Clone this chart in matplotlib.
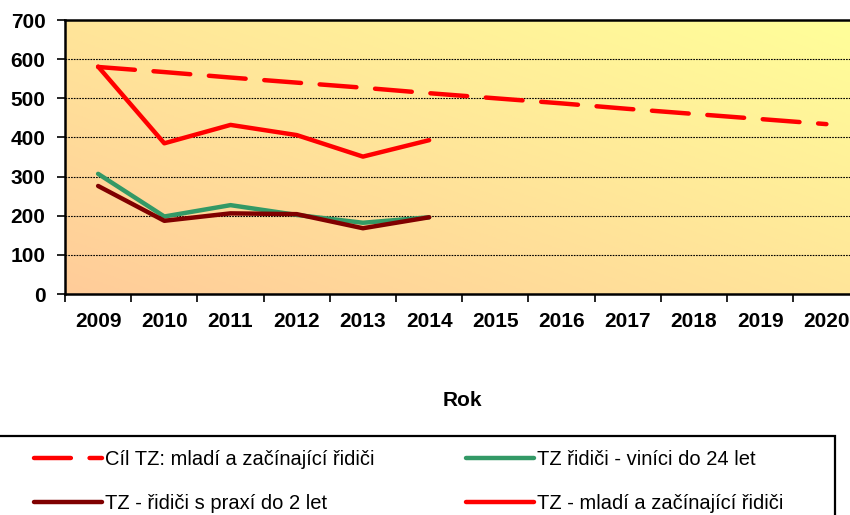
import numpy as np
import matplotlib
matplotlib.use('Agg')
import matplotlib.pyplot as plt
from matplotlib.colors import LinearSegmentedColormap
from matplotlib.patches import Rectangle

plt.rcParams['font.family'] = ['Liberation Sans', 'DejaVu Sans']

years = ['2009', '2010', '2011', '2012', '2013', '2014', '2015', '2016',
         '2017', '2018', '2019', '2020']
cil_tz = [580, 567, 553, 540, 527, 513, 500, 487, 473, 460, 447, 434]
vinici_24 = [307, 198, 227, 202, 182, 196]
praxe_2 = [276, 187, 206, 204, 168, 196]
mladi_zac = [581, 385, 432, 406, 351, 393]

fig = plt.figure(figsize=(8.5, 5.15), dpi=100)
ax = fig.add_axes([65 / 850, 1 - 294 / 515, 794.5 / 850, 274 / 515])

# gradient background (peach bottom-left -> pale yellow top-right)
cmap = LinearSegmentedColormap.from_list('bg', ['#FFCC99', '#FFFF99'])
gx, gy = np.meshgrid(np.linspace(0, 1, 200), np.linspace(0, 1, 200))
ax.imshow((gx + gy) / 2, cmap=cmap, extent=[0, 1, 0, 1], origin='lower',
          transform=ax.transAxes, aspect='auto', zorder=0)

x = np.arange(len(years))
ax.plot(x, cil_tz, color='#FF0000', lw=3.2, dashes=(8.3, 4.2),
        dash_capstyle='round', label='Cíl TZ: mladí a začínající řidiči', zorder=3)
ax.plot(x[:6], praxe_2, color='#800000', lw=3.2, solid_capstyle='round',
        label='TZ - řidiči s praxí do 2 let', zorder=5)
ax.plot(x[:6], vinici_24, color='#339966', lw=3.2, solid_capstyle='round',
        label='TZ řidiči - viníci do 24 let', zorder=4)
ax.plot(x[:6], mladi_zac, color='#FF0000', lw=3.2, solid_capstyle='round',
        label='TZ - mladí a začínající řidiči', zorder=6)

ax.set_xlim(-0.5, 11.5)
ax.set_ylim(0, 700)
ax.set_yticks(range(0, 701, 100))
ax.set_xticks(np.arange(-0.5, 12, 1))
ax.set_xticklabels([])
ax.set_xticks(x, minor=True)
ax.set_xticklabels(years, minor=True)
ax.tick_params(axis='x', which='major', length=6, width=1.2, direction='out')
ax.tick_params(axis='x', which='minor', length=0, pad=13, labelsize=15)
ax.tick_params(axis='y', length=6, width=1.2, pad=8, labelsize=15)
for lab in ax.get_xticklabels(minor=True) + ax.get_yticklabels():
    lab.set_fontweight('bold')

for v in range(100, 700, 100):
    ax.axhline(v, color='black', lw=0.8, ls=(0, (1.5, 1)), zorder=1)

for s in ax.spines.values():
    s.set_linewidth(1.8)

fig.text(462 / 850, 1 - 400 / 515, 'Rok', ha='center', va='center',
         fontsize=15, fontweight='bold')

# legend box
fig.patches.append(Rectangle((-0.02, -0.2), 835 / 850 + 0.02, 0.2 + (515 - 436) / 515,
                             transform=fig.transFigure, fill=False,
                             edgecolor='black', lw=1.6, clip_on=False))

h, l = ax.get_legend_handles_labels()
fig.legend(h, l, ncol=2, loc='upper left', bbox_to_anchor=(34 / 850, 1 - 450 / 515),
           frameon=False, fontsize=14.5, handlelength=3.4, handletextpad=0.12,
           columnspacing=4.55, labelspacing=1.25, borderpad=0, borderaxespad=0)

fig.savefig('out.png', dpi=100)
